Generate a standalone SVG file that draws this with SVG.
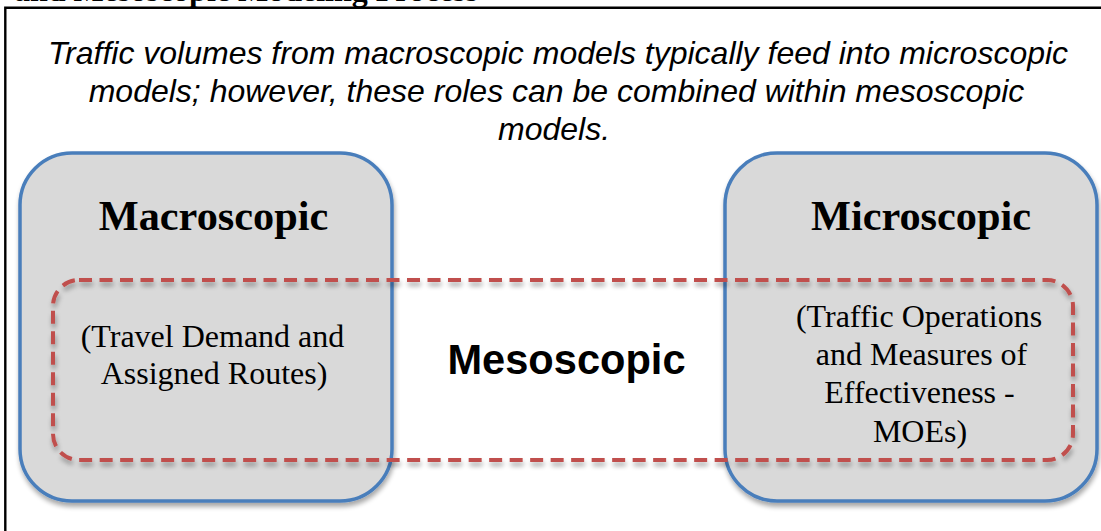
<svg xmlns="http://www.w3.org/2000/svg" width="1101" height="531" viewBox="0 0 1101 531">
  <defs>
    <filter id="shadow" x="-10%" y="-10%" width="120%" height="125%">
      <feGaussianBlur in="SourceAlpha" stdDeviation="2.5"/>
      <feOffset dx="1" dy="4" result="b"/>
      <feComponentTransfer><feFuncA type="linear" slope="0.35"/></feComponentTransfer>
      <feMerge><feMergeNode/><feMergeNode in="SourceGraphic"/></feMerge>
    </filter>
  </defs>
  <style>
    .box { fill: #d9d9d9; stroke: #4a7ebb; stroke-width: 3.5; }
    .meso { fill: none; stroke: #c0504d; stroke-width: 4; stroke-dasharray: 13 7.5; }
    .title { font-family: "Liberation Serif", "Times New Roman", serif; font-weight: bold; font-size: 42.3px; fill: #000; text-anchor: middle; }
    .body { font-family: "Liberation Serif", "Times New Roman", serif; font-size: 32px; fill: #000; text-anchor: middle; }
    .intro { font-family: "Liberation Sans", Arial, sans-serif; font-style: italic; font-size: 32px; fill: #000; text-anchor: middle; }
    .mesolabel { font-family: "Liberation Sans", Arial, sans-serif; font-weight: bold; font-size: 41.6px; fill: #000; text-anchor: middle; }
  </style>
  <rect width="1101" height="531" fill="#ffffff"/>
  <text x="14" y="0.5" font-family="'Liberation Serif', 'Times New Roman', serif" font-weight="bold" font-size="32px" fill="#000">and Mesoscopic Modeling Process</text>
  <path d="M5.3 540 V7.8 H1110" fill="none" stroke="#000" stroke-width="2.4"/>
  <g id="intro">
    <text class="intro" x="558" y="64">Traffic volumes from macroscopic models typically feed into microscopic</text>
    <text class="intro" x="556.5" y="102">models; however, these roles can be combined within mesoscopic</text>
    <text class="intro" x="554" y="140">models.</text>
  </g>
  <g id="macroscopic">
    <rect class="box" x="20" y="153" width="372" height="348" rx="52" ry="52" filter="url(#shadow)"/>
    <text class="title" x="213.5" y="229.5">Macroscopic</text>
    <text class="body" x="212.5" y="346.5">(Travel Demand and</text>
    <text class="body" x="214" y="383.5">Assigned Routes)</text>
  </g>
  <g id="microscopic">
    <rect class="box" x="725" y="153" width="372" height="348" rx="52" ry="52" filter="url(#shadow)"/>
    <text class="title" x="921" y="229.5">Microscopic</text>
    <text class="body" x="919" y="327">(Traffic Operations</text>
    <text class="body" x="921.5" y="365">and Measures of</text>
    <text class="body" x="919.5" y="403">Effectiveness -</text>
    <text class="body" x="920" y="441.5">MOEs)</text>
  </g>
  <g id="mesoscopic">
    <rect class="meso" x="53" y="280" width="1020" height="180" rx="26" ry="26" filter="url(#shadow)"/>
    <text class="mesolabel" x="566.5" y="374">Mesoscopic</text>
  </g>
  <g id="connectors"/>
</svg>
